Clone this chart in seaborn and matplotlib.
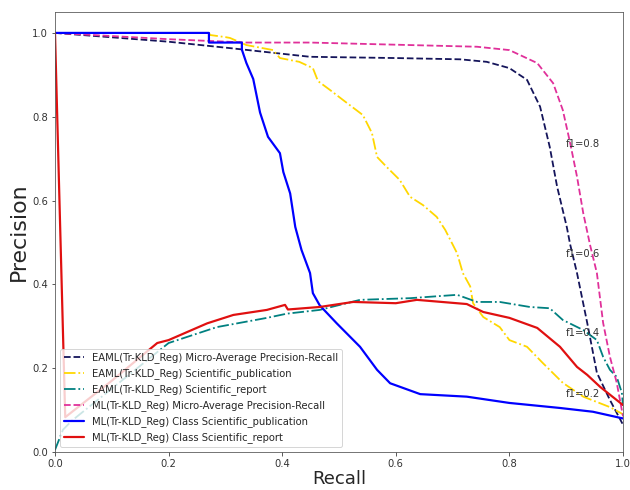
import numpy as np
import pandas as pd
import matplotlib
matplotlib.use("Agg")
import matplotlib.pyplot as plt
import seaborn as sns

# values
eaml_micro_r = [0, 0.2, 0.313, 0.449, 0.6, 0.713, 0.76, 0.80, 0.831, 0.854, 0.871, 0.884, 0.901, 0.907, 0.919, 0.937, 0.954, 0.977, 1.0]
eaml_micro_p = [1.0, 0.979, 0.963, 0.943, 0.94, 0.937, 0.931, 0.916, 0.888, 0.824, 0.728, 0.633, 0.537, 0.495, 0.427, 0.308, 0.189, 0.124, 0.065]

eaml_pub_r = [0, 0.271, 0.273, 0.3, 0.308, 0.337, 0.384, 0.396, 0.43, 0.454, 0.463, 0.484, 0.507, 0.542, 0.558, 0.567, 0.584, 0.607, 0.625, 0.648, 0.672, 0.687, 0.708, 0.718, 0.731, 0.736, 0.754, 0.783, 0.80, 0.831, 0.859, 0.894, 0.93, 0.977, 1.0]
eaml_pub_p = [1.0, 1.0, 0.995, 0.99, 0.988, 0.971, 0.959, 0.94, 0.931, 0.916, 0.885, 0.864, 0.84, 0.804, 0.761, 0.704, 0.68, 0.649, 0.609, 0.589, 0.561, 0.53, 0.474, 0.427, 0.395, 0.355, 0.322, 0.298, 0.267, 0.251, 0.212, 0.165, 0.132, 0.107, 0.09]

eaml_rep_r = [0, 0.014, 0.03, 0.2, 0.285, 0.373, 0.408, 0.466, 0.537, 0.625, 0.708, 0.743, 0.783, 0.836, 0.871, 0.894, 0.93, 0.954, 0.965, 0.977, 0.989, 0.998, 1.0]
eaml_rep_p = [0.005, 0.053, 0.075, 0.26, 0.298, 0.32, 0.33, 0.339, 0.363, 0.367, 0.375, 0.358, 0.358, 0.346, 0.343, 0.315, 0.291, 0.267, 0.227, 0.196, 0.179, 0.141, 0.11]

ml_micro_r = [0, 0.2, 0.337, 0.449, 0.625, 0.743, 0.80, 0.849, 0.877, 0.894, 0.907, 0.919, 0.93, 0.942, 0.954, 0.965, 0.977, 0.989, 1.0]
ml_micro_p = [1.0, 0.985, 0.977, 0.977, 0.971, 0.967, 0.959, 0.928, 0.88, 0.816, 0.737, 0.657, 0.57, 0.494, 0.427, 0.308, 0.227, 0.165, 0.085]

ml_pub_r = [0, 0.271, 0.271, 0.329, 0.329, 0.337, 0.349, 0.361, 0.375, 0.396, 0.402, 0.414, 0.423, 0.434, 0.449, 0.454, 0.466, 0.496, 0.537, 0.567, 0.59, 0.643, 0.725, 0.80, 0.889, 0.947, 1.0]
ml_pub_p = [1.0, 1.0, 0.977, 0.977, 0.96, 0.928, 0.89, 0.81, 0.752, 0.713, 0.668, 0.617, 0.537, 0.482, 0.427, 0.379, 0.35, 0.307, 0.251, 0.196, 0.164, 0.138, 0.132, 0.117, 0.105, 0.096, 0.08]

ml_rep_r = [0, 0.018, 0.1, 0.18, 0.2, 0.268, 0.314, 0.373, 0.405, 0.41, 0.466, 0.525, 0.6, 0.637, 0.725, 0.754, 0.80, 0.849, 0.889, 0.919, 0.937, 0.96, 1.0]
ml_rep_p = [1.0, 0.083, 0.17, 0.26, 0.267, 0.307, 0.327, 0.339, 0.351, 0.34, 0.346, 0.358, 0.355, 0.363, 0.353, 0.334, 0.32, 0.296, 0.251, 0.203, 0.184, 0.155, 0.112]

f_scores = [0.2, 0.4, 0.6, 0.8]

curves = [
    ("EAML(Tr-KLD_Reg) Micro-Average Precision-Recall", eaml_micro_r, eaml_micro_p, "#14145a", "--", 1.8),
    ("EAML(Tr-KLD_Reg) Scientific_publication", eaml_pub_r, eaml_pub_p, "gold", "-.", 1.8),
    ("EAML(Tr-KLD_Reg) Scientific_report", eaml_rep_r, eaml_rep_p, "teal", "-.", 1.8),
    ("ML(Tr-KLD_Reg) Micro-Average Precision-Recall", ml_micro_r, ml_micro_p, "#e0309a", "--", 1.8),
    ("ML(Tr-KLD_Reg) Class Scientific_publication", ml_pub_r, ml_pub_p, "blue", "-", 2.2),
    ("ML(Tr-KLD_Reg) Class Scientific_report", ml_rep_r, ml_rep_p, "#e01010", "-", 2.2),
]

sns.set_style("ticks")
plt.rcParams['font.family'] = ['DejaVu Sans']

fig = plt.figure(figsize=(630 / 72, 490 / 72), dpi=72)
ax = fig.add_axes([0.0873, 0.0776, 0.9016, 0.898])

for name, r, p, col, ls, lw in curves:
    df = pd.DataFrame({"recall": r, "precision": p})
    sns.lineplot(data=df, x="recall", y="precision", sort=False, estimator=None,
                 color=col, linestyle=ls, linewidth=lw, label=name, ax=ax)

# iso-f1 labels (lines themselves are not drawn in the reference)
x = np.linspace(0.01, 1)
for f in f_scores:
    y = f * x / (2 * x - f)
    ax.annotate('f1={0:0.1f}'.format(f), xy=(0.9, y[45] + 0.02), fontsize=10, color="#333333")

ax.set_xlim(0.0, 1.0)
ax.set_ylim(0.0, 1.05)
ax.set_xticks([0.0, 0.2, 0.4, 0.6, 0.8, 1.0])
ax.set_yticks([0.0, 0.2, 0.4, 0.6, 0.8, 1.0])
ax.tick_params(labelsize=10, colors="#333333")
for s in ax.spines.values():
    s.set_color("#555555")
    s.set_visible(True)
ax.set_xlabel("Recall", fontsize=18, labelpad=1)
ax.set_ylabel("Precision", fontsize=22, labelpad=3)
ax.legend(loc="lower left", fontsize=10, framealpha=0.8)

fig.savefig("out.png", dpi=72)
